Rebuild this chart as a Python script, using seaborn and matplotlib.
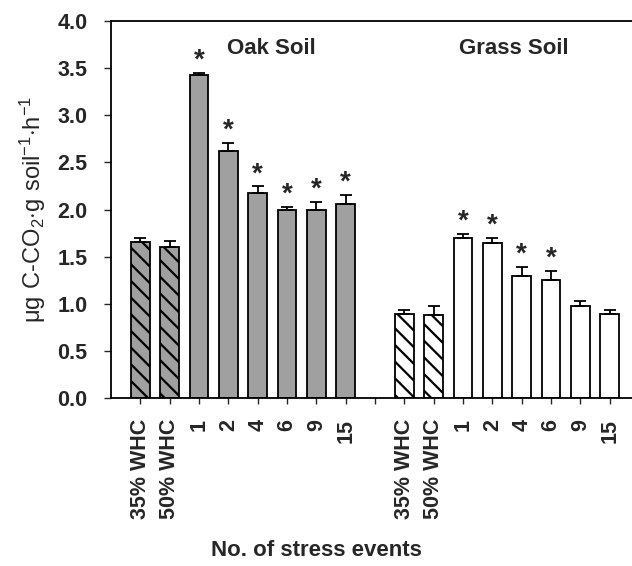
import numpy as np
import pandas as pd
import matplotlib
matplotlib.use("Agg")
import matplotlib.pyplot as plt
import seaborn as sns

sns.set_style("ticks")
plt.rcParams["font.family"] = ["Liberation Sans", "DejaVu Sans"]
plt.rcParams["hatch.linewidth"] = 1.6
plt.rcParams["mathtext.fontset"] = "custom"
plt.rcParams["mathtext.rm"] = "Liberation Sans"

# data
labels = ["35% WHC", "50% WHC", "1", "2", "4", "6", "9", "15"]
oak_mean = [1.65, 1.60, 3.43, 2.62, 2.17, 1.99, 2.00, 2.06]
oak_err = [0.05, 0.07, 0.02, 0.09, 0.075, 0.04, 0.08, 0.09]
grass_mean = [0.89, 0.88, 1.70, 1.64, 1.29, 1.25, 0.98, 0.89]
grass_err = [0.04, 0.10, 0.04, 0.06, 0.10, 0.10, 0.05, 0.04]
oak_star = [False, False, True, True, True, True, True, True]
grass_star = [False, False, True, True, True, True, False, False]

df = pd.DataFrame({
    "key": ["Oak " + l for l in labels] + ["Grass " + l for l in labels],
    "soil": ["Oak"] * 8 + ["Grass"] * 8,
    "label": labels + labels,
    "rate": oak_mean + grass_mean,
    "err": oak_err + grass_err,
    "star": oak_star + grass_star,
})
order = list(df.key[:8]) + ["gap"] + list(df.key[8:])

fig = plt.figure(figsize=(6.32, 5.66), dpi=100)
ax = fig.add_axes([111 / 632, 1 - 398 / 566, (639 - 111) / 632, (398 - 21) / 566])

sns.barplot(data=df, x="key", y="rate", hue="soil", order=order,
            palette={"Oak": "#a0a0a0", "Grass": "white"}, dodge=False,
            width=0.63, errorbar=None, edgecolor="black", linewidth=1.3,
            saturation=1, legend=False, ax=ax)

bars = [p for p in ax.patches if p.get_height() > 0]
bars.sort(key=lambda p: p.get_x())
xs = np.array([p.get_x() + p.get_width() / 2 for p in bars])
tops = df.rate.values + df.err.values
ax.errorbar(xs, df.rate.values, yerr=[np.zeros(16), df.err.values], fmt="none",
            ecolor="black", elinewidth=1.3, capsize=4, capthick=1.3)
for p, lab in zip(bars, df.label):
    if "WHC" in lab:
        p.set_hatch("\\\\")
for x, t, s in zip(xs, tops, df.star):
    if s:
        ax.text(x, t + 0.13, "*", ha="center", va="center", fontsize=20,
                fontweight="bold")

ax.text(4.46, 3.71, "Oak Soil", ha="center", va="center", fontsize=16,
        fontweight="bold")
ax.text(12.73, 3.71, "Grass Soil", ha="center", va="center", fontsize=16,
        fontweight="bold")

ax.set_xlim(-1, 17)
ax.set_ylim(0, 4)
ax.set_yticks(np.arange(0, 4.01, 0.5))
ax.set_yticklabels([f"{v:.1f}" for v in np.arange(0, 4.01, 0.5)],
                   fontsize=15.5, fontweight="bold")
ax.set_xticks(range(17))
ax.set_xticklabels(labels + [""] + labels, rotation=90, fontsize=15.5,
                   fontweight="bold")
ax.tick_params(axis="y", length=5, width=1, pad=12, direction="out")
ax.tick_params(axis="x", length=4, width=1, pad=11, direction="out")
for s in ax.spines.values():
    s.set_linewidth(1.3)
    s.set_color("black")
ax.set_xlabel("")
ax.set_ylabel(r"$\mathrm{\mu g\ C\text{-}CO_2{\cdot}g\ soil^{-1}{\cdot}h^{-1}}$",
              fontsize=17, va="center")
ax.yaxis.set_label_coords(-(111 - 33) / 528, 0.5)
fig.text(316 / 632, 1 - 550 / 566, "No. of stress events", ha="center",
         va="center", fontsize=16, fontweight="bold")

fig.savefig("out.png", dpi=100)
